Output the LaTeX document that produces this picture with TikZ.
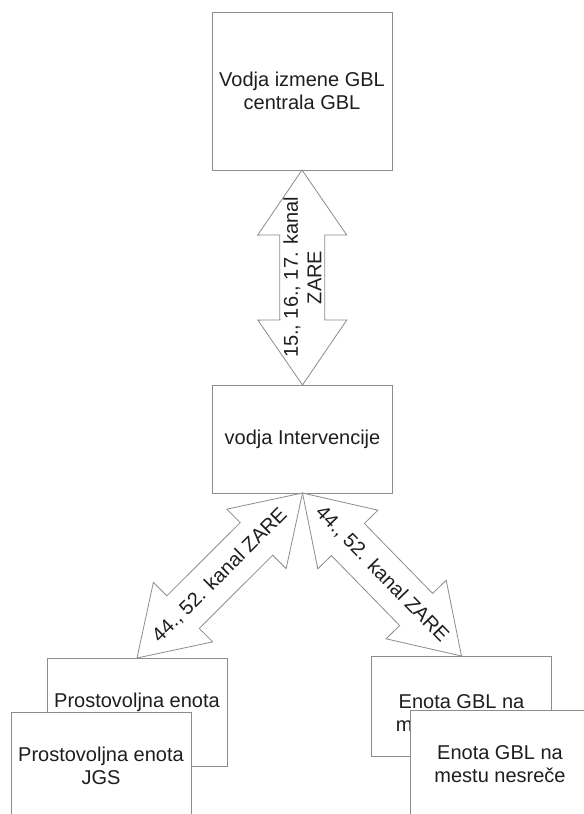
\documentclass[tikz,border=0pt]{standalone}
\usepackage{fontspec}
\setmainfont{Liberation Sans}
\usetikzlibrary{calc}
\definecolor{edge}{RGB}{140,140,140}
\definecolor{ink}{RGB}{30,30,30}
% double arrow: #1 from, #2 to, #3 head length, #4 head half width, #5 shaft half width, #6 prefix
\newcommand\dblarrow[6]{%
  \coordinate (#6pa) at ($(#1)!#3!(#2)$);
  \coordinate (#6pb) at ($(#2)!#3!(#1)$);
  \draw[arrowshape] (#1) -- ($(#6pa)!#4!90:(#2)$) -- ($(#6pa)!#5!90:(#2)$)
    -- ($(#6pb)!#5!-90:(#1)$) -- ($(#6pb)!#4!-90:(#1)$) -- (#2)
    -- ($(#6pb)!#4!90:(#1)$) -- ($(#6pb)!#5!90:(#1)$)
    -- ($(#6pa)!#5!-90:(#2)$) -- ($(#6pa)!#4!-90:(#2)$) -- cycle;}
\begin{document}
\begin{tikzpicture}[x=1bp,y=-1bp,
  box/.style={draw=edge,fill=white,line width=0.8bp,minimum width=180bp,minimum height=108bp,
    inner sep=0pt,outer sep=0pt,align=center,text=ink,font=\fontsize{20bp}{23.5bp}\selectfont},
  arrowshape/.style={draw=edge,fill=white,line width=0.8bp,line join=miter},
  lbl/.style={text=ink,font=\fontsize{20bp}{23.5bp}\selectfont,align=center,inner sep=0pt}]
\useasboundingbox (0,0) rectangle (584,814);
\clip (0,0) rectangle (584,814);
\node[box,minimum height=158bp] (top) at (302,91) {Vodja izmene GBL\\centrala GBL};
\node[box] (mid) at (302.5,439) {vodja Intervencije};
\node[box] (lb) at (137,712) {Prostovoljna enota\\JGS};
\node[box,minimum height=100bp,
  label={[lbl,yshift=-7bp]center:{Enota GBL na\\mestu nesreče}}] (rb) at (461.5,706) {};
\dblarrow{mid.north}{top.south}{65bp}{44.5bp}{22.5bp}{v}
\dblarrow{lb.north}{mid.south}{65bp}{42bp}{23bp}{l}
\dblarrow{mid.south}{rb.north}{65bp}{42bp}{23bp}{r}
\node[lbl,rotate=90] (vl) at ($(mid.north)!0.5!(top.south)$) {15., 16., 17. kanal\\ZARE};
\path (lb.north) -- (mid.south) node[midway,sloped,lbl] (ll) {44., 52. kanal ZARE};
\path (mid.south) -- (rb.north) node[midway,sloped,lbl] (rl) {44., 52. kanal ZARE};
\node[box] (lf) at (101,766) {Prostovoljna enota\\JGS};
\node[box] (rf) at (500,764) {Enota GBL na\\mestu nesreče};
\end{tikzpicture}
\end{document}
